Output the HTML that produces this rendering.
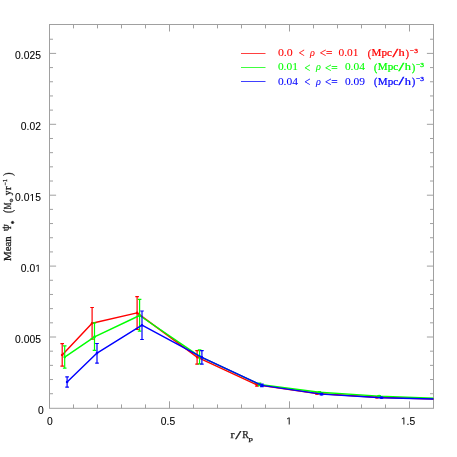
<!DOCTYPE html><html><head><meta charset="utf-8"><style>html,body{margin:0;padding:0;background:#fff;overflow:hidden;}#w{width:457px;height:457px;will-change:transform;}svg{display:block;}text{font-family:"Liberation Sans",sans-serif;}.s{font-family:"Liberation Serif",serif;}</style></head><body><div id="w">
<svg width="457" height="457" viewBox="0 0 457 457">
<g stroke="#a0a0a0" stroke-width="1" fill="none">
<rect x="49.5" y="24.5" width="384.0" height="383.8"/>
<path d="M73.50 408.3v-3.9M73.50 24.5v3.9M97.50 408.3v-3.9M97.50 24.5v3.9M121.50 408.3v-3.9M121.50 24.5v3.9M145.50 408.3v-3.9M145.50 24.5v3.9M169.50 408.3v-7M169.50 24.5v7M193.50 408.3v-3.9M193.50 24.5v3.9M217.50 408.3v-3.9M217.50 24.5v3.9M241.50 408.3v-3.9M241.50 24.5v3.9M265.50 408.3v-3.9M265.50 24.5v3.9M289.50 408.3v-7M289.50 24.5v7M313.50 408.3v-3.9M313.50 24.5v3.9M337.50 408.3v-3.9M337.50 24.5v3.9M361.50 408.3v-3.9M361.50 24.5v3.9M385.50 408.3v-3.9M385.50 24.5v3.9M409.50 408.3v-7M409.50 24.5v7M49.5 393.72h3.5M433.5 393.72h-3.5M49.5 379.54h3.5M433.5 379.54h-3.5M49.5 365.36h3.5M433.5 365.36h-3.5M49.5 351.18h3.5M433.5 351.18h-3.5M49.5 337.00h6.6M433.5 337.00h-6.6M49.5 322.82h3.5M433.5 322.82h-3.5M49.5 308.64h3.5M433.5 308.64h-3.5M49.5 294.46h3.5M433.5 294.46h-3.5M49.5 280.28h3.5M433.5 280.28h-3.5M49.5 266.10h6.6M433.5 266.10h-6.6M49.5 251.92h3.5M433.5 251.92h-3.5M49.5 237.74h3.5M433.5 237.74h-3.5M49.5 223.56h3.5M433.5 223.56h-3.5M49.5 209.38h3.5M433.5 209.38h-3.5M49.5 195.20h6.6M433.5 195.20h-6.6M49.5 181.02h3.5M433.5 181.02h-3.5M49.5 166.84h3.5M433.5 166.84h-3.5M49.5 152.66h3.5M433.5 152.66h-3.5M49.5 138.48h3.5M433.5 138.48h-3.5M49.5 124.30h6.6M433.5 124.30h-6.6M49.5 110.12h3.5M433.5 110.12h-3.5M49.5 95.94h3.5M433.5 95.94h-3.5M49.5 81.76h3.5M433.5 81.76h-3.5M49.5 67.58h3.5M433.5 67.58h-3.5M49.5 53.40h6.6M433.5 53.40h-6.6M49.5 39.22h3.5M433.5 39.22h-3.5"/>
</g>
<defs><clipPath id="c"><rect x="49.5" y="24.5" width="384.0" height="383.8"/></clipPath></defs>
<g clip-path="url(#c)" fill="none">
<polyline points="62.2,355.0 92.1,323.2 137.1,312.9 197.1,357.1 256.9,384.9 316.9,393.5 376.9,397.3 436.9,399.0" stroke="#ff0000" stroke-width="1.45" stroke-linejoin="round"/>
<path d="M62.2 343.7V366.2M60.400000000000006 343.7h3.6M60.400000000000006 366.2h3.6M92.1 307.5V339.2M90.3 307.5h3.6M90.3 339.2h3.6M137.1 296.6V329.4M135.29999999999998 296.6h3.6M135.29999999999998 329.4h3.6M197.1 350.6V364.1M195.29999999999998 350.6h3.6M195.29999999999998 364.1h3.6M256.9 383.7V386.1M255.09999999999997 383.7h3.6M255.09999999999997 386.1h3.6M316.9 392.8V394.2M315.09999999999997 392.8h3.6M315.09999999999997 394.2h3.6M376.9 396.8V397.8M375.09999999999997 396.8h3.6M375.09999999999997 397.8h3.6M436.9 398.7V399.3M435.09999999999997 398.7h3.6M435.09999999999997 399.3h3.6" stroke="#ff0000" stroke-width="1.2"/>
<circle cx="62.2" cy="355.0" r="1.3" fill="#ff0000"/>
<circle cx="92.1" cy="323.2" r="1.3" fill="#ff0000"/>
<circle cx="137.1" cy="312.9" r="1.3" fill="#ff0000"/>
<circle cx="197.1" cy="357.1" r="1.3" fill="#ff0000"/>
<circle cx="256.9" cy="384.9" r="1.3" fill="#ff0000"/>
<circle cx="316.9" cy="393.5" r="1.3" fill="#ff0000"/>
<circle cx="376.9" cy="397.3" r="1.3" fill="#ff0000"/>
<circle cx="436.9" cy="399.0" r="1.3" fill="#ff0000"/>
<polyline points="64.7,357.1 94.5,336.9 139.6,315.5 199.6,356.4 259.5,384.4 319.4,392.2 379.1,396.1 439.1,398.55" stroke="#00ff00" stroke-width="1.45" stroke-linejoin="round"/>
<path d="M64.7 345.9V368.2M62.900000000000006 345.9h3.6M62.900000000000006 368.2h3.6M94.5 322.9V350.3M92.7 322.9h3.6M92.7 350.3h3.6M139.6 299.3V331.1M137.79999999999998 299.3h3.6M137.79999999999998 331.1h3.6M199.6 349.8V363.8M197.79999999999998 349.8h3.6M197.79999999999998 363.8h3.6M259.5 383.2V385.6M257.7 383.2h3.6M257.7 385.6h3.6M319.4 391.5V392.9M317.59999999999997 391.5h3.6M317.59999999999997 392.9h3.6M379.1 395.6V396.6M377.3 395.6h3.6M377.3 396.6h3.6M439.1 398.2V398.9M437.3 398.2h3.6M437.3 398.9h3.6" stroke="#00ff00" stroke-width="1.2"/>
<circle cx="64.7" cy="357.1" r="1.3" fill="#00ff00"/>
<circle cx="94.5" cy="336.9" r="1.3" fill="#00ff00"/>
<circle cx="139.6" cy="315.5" r="1.3" fill="#00ff00"/>
<circle cx="199.6" cy="356.4" r="1.3" fill="#00ff00"/>
<circle cx="259.5" cy="384.4" r="1.3" fill="#00ff00"/>
<circle cx="319.4" cy="392.2" r="1.3" fill="#00ff00"/>
<circle cx="379.1" cy="396.1" r="1.3" fill="#00ff00"/>
<circle cx="439.1" cy="398.55" r="1.3" fill="#00ff00"/>
<polyline points="67.1,382.0 97.0,353.1 142.0,325.2 201.9,357.3 261.9,385.4 321.5,394.1 381.5,397.7 441.5,399.2" stroke="#0000ff" stroke-width="1.45" stroke-linejoin="round"/>
<path d="M67.1 376.8V387.1M65.3 376.8h3.6M65.3 387.1h3.6M97.0 343.5V363.1M95.2 343.5h3.6M95.2 363.1h3.6M142.0 311.0V339.5M140.2 311.0h3.6M140.2 339.5h3.6M201.9 350.6V364.1M200.1 350.6h3.6M200.1 364.1h3.6M261.9 384.2V386.6M260.09999999999997 384.2h3.6M260.09999999999997 386.6h3.6M321.5 393.4V394.8M319.7 393.4h3.6M319.7 394.8h3.6M381.5 397.2V398.2M379.7 397.2h3.6M379.7 398.2h3.6M441.5 398.9V399.5M439.7 398.9h3.6M439.7 399.5h3.6" stroke="#0000ff" stroke-width="1.2"/>
<circle cx="67.1" cy="382.0" r="1.3" fill="#0000ff"/>
<circle cx="97.0" cy="353.1" r="1.3" fill="#0000ff"/>
<circle cx="142.0" cy="325.2" r="1.3" fill="#0000ff"/>
<circle cx="201.9" cy="357.3" r="1.3" fill="#0000ff"/>
<circle cx="261.9" cy="385.4" r="1.3" fill="#0000ff"/>
<circle cx="321.5" cy="394.1" r="1.3" fill="#0000ff"/>
<circle cx="381.5" cy="397.7" r="1.3" fill="#0000ff"/>
<circle cx="441.5" cy="399.2" r="1.3" fill="#0000ff"/>
</g>
<g fill="#000" stroke="#000" stroke-width="0.1" font-size="10.3px">
<text x="15.12" y="58.65">0</text><text x="20.85" y="58.65">.</text><text x="23.71" y="58.65">0</text><text x="29.44" y="58.65">2</text><text x="35.17" y="58.65">5</text>
<text x="20.85" y="130.2">0</text><text x="26.58" y="130.2">.</text><text x="29.44" y="130.2">0</text><text x="35.17" y="130.2">2</text>
<text x="15.12" y="201.1">0</text><text x="20.85" y="201.1">.</text><text x="23.71" y="201.1">0</text><path transform="translate(29.44 201.1) scale(0.00503 -0.00503)" d="M515 0V1237L197 1010V1180L530 1409H696V0Z"/><text x="35.17" y="201.1">5</text>
<text x="20.85" y="271.8">0</text><text x="26.58" y="271.8">.</text><text x="29.44" y="271.8">0</text><path transform="translate(35.17 271.8) scale(0.00503 -0.00503)" d="M515 0V1237L197 1010V1180L530 1409H696V0Z"/>
<text x="15.12" y="343.1">0</text><text x="20.85" y="343.1">.</text><text x="23.71" y="343.1">0</text><text x="29.44" y="343.1">0</text><text x="35.17" y="343.1">5</text>
<text x="37.97" y="413.6">0</text>
<text x="46.94" y="424.5">0</text>
<text x="160.84" y="424.5">0</text><text x="166.57" y="424.5">.</text><text x="169.43" y="424.5">5</text>
<path transform="translate(286.14 424.5) scale(0.00503 -0.00503)" d="M515 0V1237L197 1010V1180L530 1409H696V0Z"/>
<path transform="translate(400.84 424.5) scale(0.00503 -0.00503)" d="M515 0V1237L197 1010V1180L530 1409H696V0Z"/><text x="406.57" y="424.5">.</text><text x="409.43" y="424.5">5</text>
</g>
<g fill="#1a1a1a" stroke="#1a1a1a" stroke-width="0.25">
<text class="s" x="230.4" y="437.7" font-size="9.5px" textLength="4.0" lengthAdjust="spacingAndGlyphs">r</text>
<text class="s" x="235.3" y="438.8" font-size="11.5px" textLength="6.0" lengthAdjust="spacingAndGlyphs">/</text>
<text class="s" x="242.2" y="437.7" font-size="9.5px" textLength="6.5" lengthAdjust="spacingAndGlyphs">R</text>
<text class="s" x="248.6" y="440.6" font-size="6.2px" textLength="4.4" lengthAdjust="spacingAndGlyphs">p</text>
</g>
<g fill="#1a1a1a" stroke="#1a1a1a" stroke-width="0.3" transform="translate(10.7 261) rotate(-90)">
<text class="s" x="0" y="0" font-size="9.5px" textLength="24.7" lengthAdjust="spacingAndGlyphs">Mean</text>
<text class="s" x="30.1" y="0" font-size="9.5px" textLength="6.6" lengthAdjust="spacingAndGlyphs">Ψ</text>
<circle cx="33.4" cy="-7.4" r="0.6"/>
<text class="s" x="36.7" y="6.6" font-size="8.5px" textLength="3.6" lengthAdjust="spacingAndGlyphs">*</text>
<text class="s" x="47.9" y="1.0" font-size="11.5px" textLength="3.2" lengthAdjust="spacingAndGlyphs">(</text>
<text class="s" x="51.7" y="0" font-size="9.5px" textLength="6.6" lengthAdjust="spacingAndGlyphs">M</text>
<circle cx="60.6" cy="0.7" r="1.35" fill="#999" stroke-width="0.8"/>
<text class="s" x="65.7" y="0" font-size="9.5px" textLength="4.6" lengthAdjust="spacingAndGlyphs">y</text>
<text class="s" x="71.0" y="0" font-size="9.5px" textLength="3.7" lengthAdjust="spacingAndGlyphs">r</text>
<text class="s" x="75.6" y="-3.6" font-size="5.8px" textLength="6.2" lengthAdjust="spacingAndGlyphs">−1</text>
<text class="s" x="85.3" y="1.0" font-size="11.5px" textLength="3.2" lengthAdjust="spacingAndGlyphs">)</text>
</g>
<line x1="241" x2="265.5" y1="53.5" y2="53.5" stroke="#ff0000" stroke-width="1" stroke-opacity="0.75"/>
<g fill="#ff0000" stroke="#ff0000" stroke-width="0.06">
<text class="s" x="277.9" y="56.3" font-size="10px" textLength="14.9" lengthAdjust="spacingAndGlyphs">0.0</text>
<text class="s" x="298.7" y="57.4" font-size="11.5px" textLength="5.8" lengthAdjust="spacingAndGlyphs" stroke-width="0.2">&lt;</text>
<text class="s" x="309.9" y="56.3" font-size="10px" textLength="4.9" lengthAdjust="spacingAndGlyphs" font-style="italic">ρ</text>
<text class="s" x="319.7" y="57.4" font-size="11.5px" textLength="12.8" lengthAdjust="spacingAndGlyphs" stroke-width="0.2">&lt;=</text>
<text class="s" x="338.5" y="56.3" font-size="10px" textLength="20.0" lengthAdjust="spacingAndGlyphs">0.01</text>
<text class="s" x="367.8" y="57.0" font-size="10.9px" textLength="3.2" lengthAdjust="spacingAndGlyphs" stroke-width="0.32">(</text>
<text class="s" x="371.6" y="56.3" font-size="10px" textLength="20.3" lengthAdjust="spacingAndGlyphs" stroke-width="0.22">Mpc</text>
<text class="s" x="392.4" y="57.199999999999996" font-size="11.5px" textLength="5.6" lengthAdjust="spacingAndGlyphs" stroke-width="0.3">/</text>
<text class="s" x="398.6" y="56.3" font-size="10px" textLength="6.2" lengthAdjust="spacingAndGlyphs" stroke-width="0.22">h</text>
<text class="s" x="405.8" y="57.0" font-size="10.9px" textLength="3.2" lengthAdjust="spacingAndGlyphs" stroke-width="0.32">)</text>
<text class="s" x="410.0" y="53.0" font-size="6.9px" textLength="7.9" lengthAdjust="spacingAndGlyphs" stroke-width="0.3">−3</text>
</g>
<line x1="241" x2="265.5" y1="67.5" y2="67.5" stroke="#00ff00" stroke-width="1" stroke-opacity="0.75"/>
<g fill="#00ff00" stroke="#00ff00" stroke-width="0.06">
<text class="s" x="277.9" y="70.4" font-size="10px" textLength="20.0" lengthAdjust="spacingAndGlyphs">0.01</text>
<text class="s" x="304.5" y="71.5" font-size="11.5px" textLength="5.8" lengthAdjust="spacingAndGlyphs" stroke-width="0.2">&lt;</text>
<text class="s" x="315.9" y="70.4" font-size="10px" textLength="4.9" lengthAdjust="spacingAndGlyphs" font-style="italic">ρ</text>
<text class="s" x="324.9" y="71.5" font-size="11.5px" textLength="12.8" lengthAdjust="spacingAndGlyphs" stroke-width="0.2">&lt;=</text>
<text class="s" x="344.9" y="70.4" font-size="10px" textLength="20.0" lengthAdjust="spacingAndGlyphs">0.04</text>
<text class="s" x="374.0" y="71.10000000000001" font-size="10.9px" textLength="3.2" lengthAdjust="spacingAndGlyphs" stroke-width="0.32">(</text>
<text class="s" x="377.8" y="70.4" font-size="10px" textLength="20.3" lengthAdjust="spacingAndGlyphs" stroke-width="0.22">Mpc</text>
<text class="s" x="398.59999999999997" y="71.30000000000001" font-size="11.5px" textLength="5.6" lengthAdjust="spacingAndGlyphs" stroke-width="0.3">/</text>
<text class="s" x="404.8" y="70.4" font-size="10px" textLength="6.2" lengthAdjust="spacingAndGlyphs" stroke-width="0.22">h</text>
<text class="s" x="412.0" y="71.10000000000001" font-size="10.9px" textLength="3.2" lengthAdjust="spacingAndGlyphs" stroke-width="0.32">)</text>
<text class="s" x="416.2" y="67.10000000000001" font-size="6.9px" textLength="7.9" lengthAdjust="spacingAndGlyphs" stroke-width="0.3">−3</text>
</g>
<line x1="241" x2="265.5" y1="81.5" y2="81.5" stroke="#0000ff" stroke-width="1" stroke-opacity="0.75"/>
<g fill="#0000ff" stroke="#0000ff" stroke-width="0.06">
<text class="s" x="277.9" y="84.5" font-size="10px" textLength="20.0" lengthAdjust="spacingAndGlyphs">0.04</text>
<text class="s" x="304.5" y="85.6" font-size="11.5px" textLength="5.8" lengthAdjust="spacingAndGlyphs" stroke-width="0.2">&lt;</text>
<text class="s" x="315.9" y="84.5" font-size="10px" textLength="4.9" lengthAdjust="spacingAndGlyphs" font-style="italic">ρ</text>
<text class="s" x="324.9" y="85.6" font-size="11.5px" textLength="12.8" lengthAdjust="spacingAndGlyphs" stroke-width="0.2">&lt;=</text>
<text class="s" x="344.9" y="84.5" font-size="10px" textLength="20.0" lengthAdjust="spacingAndGlyphs">0.09</text>
<text class="s" x="374.0" y="85.2" font-size="10.9px" textLength="3.2" lengthAdjust="spacingAndGlyphs" stroke-width="0.32">(</text>
<text class="s" x="377.8" y="84.5" font-size="10px" textLength="20.3" lengthAdjust="spacingAndGlyphs" stroke-width="0.22">Mpc</text>
<text class="s" x="398.59999999999997" y="85.4" font-size="11.5px" textLength="5.6" lengthAdjust="spacingAndGlyphs" stroke-width="0.3">/</text>
<text class="s" x="404.8" y="84.5" font-size="10px" textLength="6.2" lengthAdjust="spacingAndGlyphs" stroke-width="0.22">h</text>
<text class="s" x="412.0" y="85.2" font-size="10.9px" textLength="3.2" lengthAdjust="spacingAndGlyphs" stroke-width="0.32">)</text>
<text class="s" x="416.2" y="81.2" font-size="6.9px" textLength="7.9" lengthAdjust="spacingAndGlyphs" stroke-width="0.3">−3</text>
</g>
</svg></div></body></html>
